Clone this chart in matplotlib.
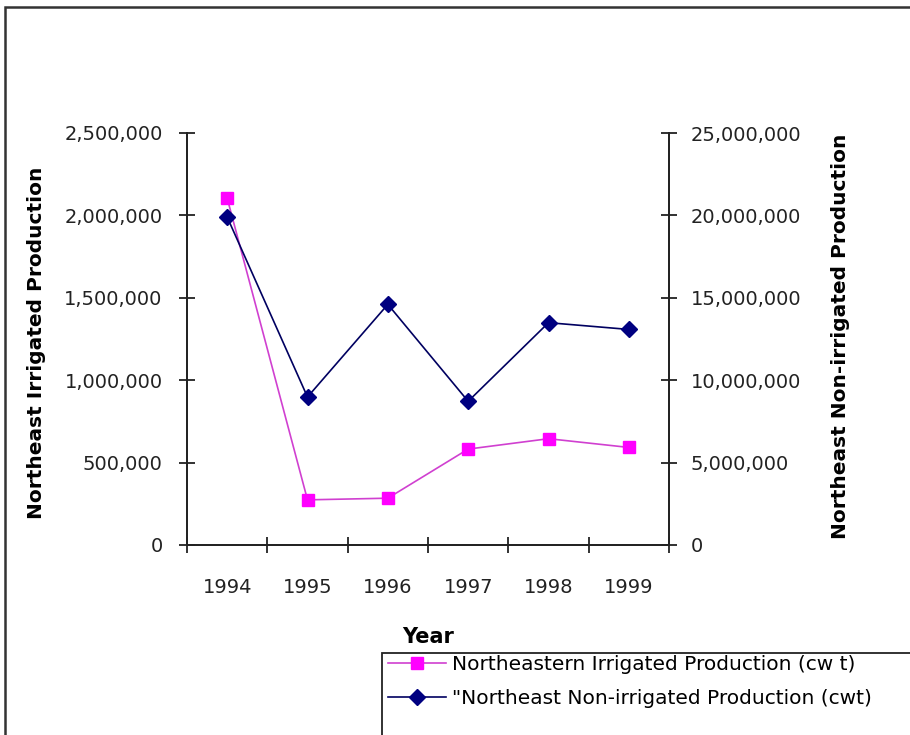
import numpy as np
import matplotlib
matplotlib.use('Agg')
import matplotlib.pyplot as plt
from matplotlib.patches import Rectangle
from matplotlib.ticker import FuncFormatter, FixedLocator

years = ['1994', '1995', '1996', '1997', '1998', '1999']
irrigated = [2105000, 274000, 284000, 582000, 645000, 592000]
non_irrigated = [19900000, 8980000, 14600000, 8720000, 13490000, 13080000]

irr_label = 'Northeastern Irrigated Production (cw t)'
non_label = '"Northeast Non-irrigated Production (cwt)'

plt.rcParams['font.family'] = ['DejaVu Sans']

W, H = 910, 735
fig = plt.figure(figsize=(W / 100, H / 100), dpi=100)
fig.patch.set_facecolor('white')

# outer chart frame, runs off the right and bottom edges
fig.add_artist(Rectangle((5 / W, -0.05), 1.2, 1 - 7 / H + 0.05,
                         transform=fig.transFigure, fill=False,
                         edgecolor='#333333', linewidth=1.8))

left, right, top, bottom = 187, 669, 133, 545
ax = fig.add_axes([left / W, 1 - bottom / H, (right - left) / W, (bottom - top) / H])
ax2 = ax.twinx()

x = np.arange(len(years))

ax.plot(x, irrigated, color='#D040D0', linewidth=1.2, marker='s', markersize=9,
        markerfacecolor='#FF00FF', markeredgecolor='#FF00FF', label=irr_label, zorder=3)
ax2.plot(x, non_irrigated, color='#000060', linewidth=1.2, marker='D', markersize=8,
         markerfacecolor='#000080', markeredgecolor='#000080', label=non_label, zorder=3)

ax.set_xlim(-0.5, len(years) - 0.5)
ax.set_ylim(0, 2500000)
ax2.set_ylim(0, 25000000)

ax.set_yticks(np.arange(0, 2500001, 500000))
ax2.set_yticks(np.arange(0, 25000001, 5000000))
fmt = FuncFormatter(lambda v, p: f'{int(v):,}')
ax.yaxis.set_major_formatter(fmt)
ax2.yaxis.set_major_formatter(fmt)

# category ticks sit between years, labels in the middle
ax.xaxis.set_major_locator(FixedLocator(np.arange(-0.5, len(years), 1.0)))
ax.xaxis.set_minor_locator(FixedLocator(x))
ax.set_xticklabels([''] * (len(years) + 1))
ax.set_xticklabels(years, minor=True)

for a in (ax, ax2):
    a.spines['top'].set_visible(False)
    for s in a.spines.values():
        s.set_linewidth(1.3)
        s.set_color('#222222')

ax.tick_params(axis='x', which='major', direction='inout', length=11, width=1.3, color='#222222')
ax.tick_params(axis='x', which='minor', length=0, pad=24, labelsize=14, labelcolor='#222222')
ax.tick_params(axis='y', direction='inout', length=11, width=1.3, color='#222222',
               pad=12, labelsize=14, labelcolor='#222222')
ax2.tick_params(axis='y', direction='inout', length=11, width=1.3, color='#222222',
                pad=10, labelsize=14, labelcolor='#222222')

ax.set_ylabel('Northeast Irrigated Production', fontsize=14.5, fontweight='bold')
ax.yaxis.set_label_coords(-0.292, 0.49)
ax2.set_ylabel('Northeast Non-irrigated Production', fontsize=14.5, fontweight='bold',
               rotation=90)
ax2.yaxis.set_label_coords(1.336, 0.507)

ax.set_xlabel('Year', fontsize=15, fontweight='bold')
ax.xaxis.set_label_coords(0.5, -0.198)

# legend box is cut off by the chart edge, so draw its frame separately
fig.add_artist(Rectangle((382 / W, -0.05), 1.0, 1 - 653 / H + 0.05,
                         transform=fig.transFigure, fill=False,
                         edgecolor='#222222', linewidth=1.3))
h1, l1 = ax.get_legend_handles_labels()
h2, l2 = ax2.get_legend_handles_labels()
leg = fig.legend(h1 + h2, l1 + l2, loc='upper left',
                 bbox_to_anchor=(385 / W, 1 - 652 / H), fontsize=14.5,
                 frameon=False, handlelength=2.9, handletextpad=0.3,
                 borderpad=0.15, labelspacing=0.75, borderaxespad=0)

fig.savefig('out.png', dpi=100)
